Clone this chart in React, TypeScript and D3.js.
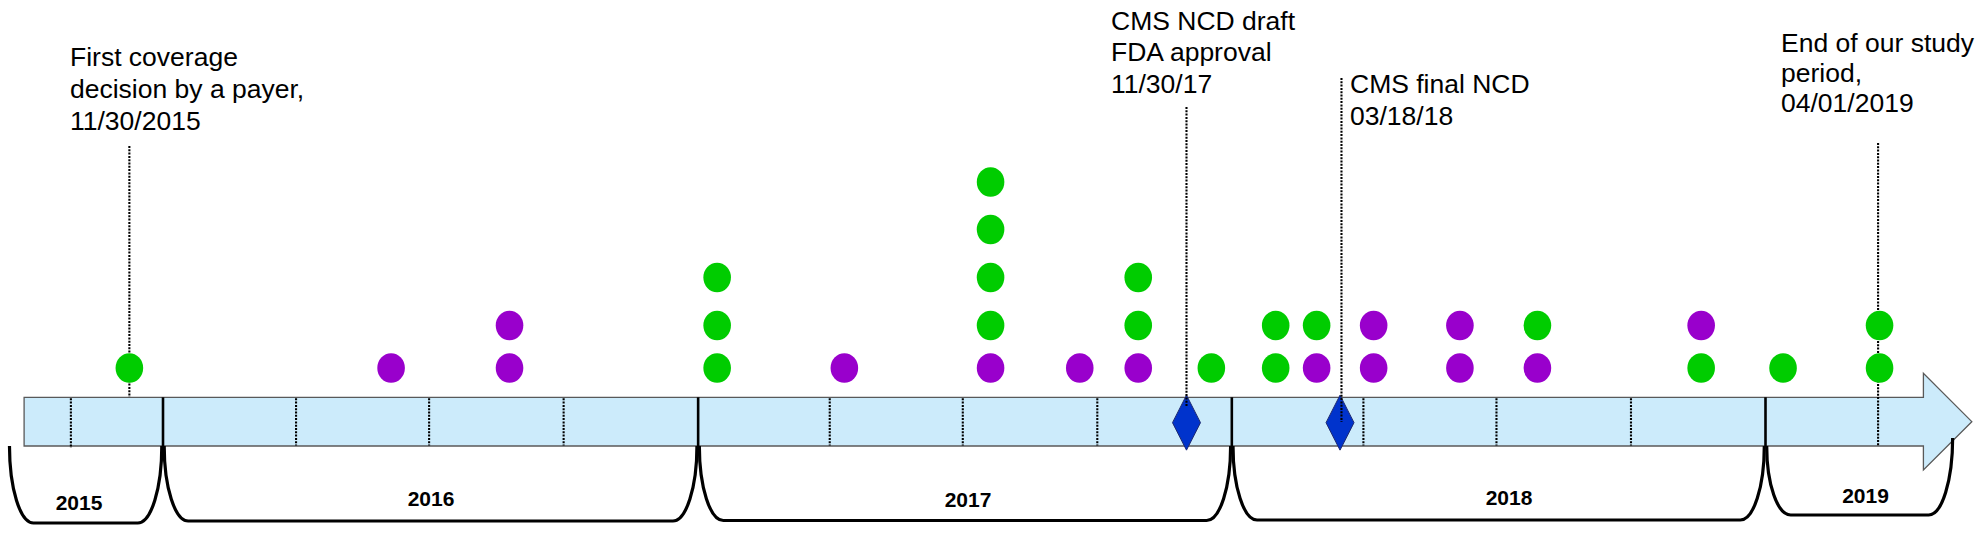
import React from "react";
import * as d3 from "d3";

// ---------------- DATA ----------------
const timelineStart = "2015-09-28";
const timelineEnd = "2019-04-19";
const yearBoundaries = ["2016-01-01", "2017-01-01", "2018-01-01", "2019-01-01"];
const quarterTicks = [
  "2015-10-30",
  "2016-04-01", "2016-07-01", "2016-10-01",
  "2017-04-01", "2017-07-01", "2017-10-01",
  "2018-04-01", "2018-07-01", "2018-10-01",
];
const yearLabels = ["2015", "2016", "2017", "2018", "2019"];
const yearBracketStarts = ["2015-09-18", "2016-01-01", "2017-01-01", "2018-01-01", "2019-01-01"];
const yearBracketEnds = ["2016-01-01", "2017-01-01", "2018-01-01", "2019-01-01", "2019-05-09"];

// coverage decision events: stack of dots, bottom to top (G = green, P = purple)
const eventDates = [
  "2015-12-09", "2016-06-05", "2016-08-25", "2017-01-14", "2017-04-11",
  "2017-07-20", "2017-09-19", "2017-10-29", "2017-12-18", "2018-01-31",
  "2018-02-28", "2018-04-08", "2018-06-06", "2018-07-29", "2018-11-18",
  "2019-01-13", "2019-03-20",
];
const eventStacks = [
  ["G"], ["P"], ["P", "P"], ["G", "G", "G"], ["P"],
  ["P", "G", "G", "G", "G"], ["P"], ["P", "G", "G"], ["G"], ["G", "G"],
  ["P", "G"], ["P", "P"], ["P", "P"], ["P", "G"], ["G", "P"],
  ["G"], ["G", "G"],
];

// milestones shown as diamonds on the timeline
const milestoneDates = ["2017-12-01", "2018-03-16"];

// annotations (dotted leader lines + text)
const annotationDates = ["2015-12-09", "2017-12-01", "2018-03-17", "2019-03-19"];
const annotationTexts = [
  ["First coverage", "decision by a payer,", "11/30/2015"],
  ["CMS NCD draft", "FDA approval", "11/30/17"],
  ["CMS final NCD", "03/18/18"],
  ["End of our study", "period,", "04/01/2019"],
];

// ---------------- LAYOUT / STYLE ----------------
const W = 1984;
const H = 534;
const BAR_TOP = 397.3;
const BAR_BOTTOM = 446;
const HEAD_HALF = 48.3;
const HEAD_LEN = 48.4;
const BRACKET_TOP = 446;
const BRACKET_RX = 24;
const GREEN = "#00CC00";
const PURPLE = "#9900CC";
const FONT = "'Liberation Sans', Arial, Helvetica, sans-serif";
const DOT_DASH = "2 1.3";
const DOT_W = 2.1;

const annotationLayout = [
  { tx: 70, base: 66, gap: 32, lineTop: 146, lineBottom: 397 },
  { tx: 1111, base: 29.5, gap: 31.5, lineTop: 107, lineBottom: 406 },
  { tx: 1350, base: 92.5, gap: 32, lineTop: 78, lineBottom: 422 },
  { tx: 1781, base: 51.7, gap: 30, lineTop: 143, lineBottom: 446 },
];
const bracketLayout = [
  { bottom: 523, rightTop: BRACKET_TOP, labelX: 79, labelY: 510 },
  { bottom: 521, rightTop: BRACKET_TOP, labelX: 431, labelY: 506 },
  { bottom: 520.5, rightTop: BRACKET_TOP, labelX: 968, labelY: 507 },
  { bottom: 520, rightTop: BRACKET_TOP, labelX: 1509, labelY: 505 },
  { bottom: 515, rightTop: 438, labelX: 1865.5, labelY: 503 },
];

const parse = d3.utcParse("%Y-%m-%d");

export default function App() {
  const x = d3
    .scaleUtc()
    .domain([parse("2016-01-01")!, parse("2019-01-01")!])
    .range([163, 1765.5]);
  const levelY = d3.scaleLinear().domain([0, 1, 2, 3, 4]).range([368, 325.5, 277.5, 229.5, 182]);

  const xs = x(parse(timelineStart)!);
  const xe = x(parse(timelineEnd)!);
  const yc = (BAR_TOP + BAR_BOTTOM) / 2;
  const arrowPath = [
    `M${xs},${BAR_TOP}`,
    `L${xe},${BAR_TOP}`,
    `L${xe},${yc - HEAD_HALF}`,
    `L${xe + HEAD_LEN},${yc}`,
    `L${xe},${yc + HEAD_HALF}`,
    `L${xe},${BAR_BOTTOM}`,
    `L${xs},${BAR_BOTTOM}`,
    "Z",
  ].join(" ");

  const bracketPath = (x0: number, x1: number, topL: number, topR: number, bottom: number) => {
    const ryL = bottom - topL;
    const ryR = bottom - topR;
    return [
      `M${x0},${topL}`,
      `A${BRACKET_RX},${ryL} 0 0 0 ${x0 + BRACKET_RX},${bottom}`,
      `L${x1 - BRACKET_RX},${bottom}`,
      `A${BRACKET_RX},${ryR} 0 0 0 ${x1},${topR}`,
    ].join(" ");
  };

  return (
    <svg
      width={W}
      height={H}
      viewBox={`0 0 ${W} ${H}`}
      style={{ position: "absolute", left: 0, top: 0, display: "block", background: "#fff" }}
    >
      <rect x={0} y={0} width={W} height={H} fill="#fff" />

      {/* timeline arrow */}
      <path d={arrowPath} fill="#CCEBFB" stroke="#595959" strokeWidth={1.3} />

      {/* quarter ticks */}
      {quarterTicks.map((d, i) => {
        const xx = x(parse(d)!);
        return (
          <line
            key={"q" + i}
            x1={xx}
            x2={xx}
            y1={BAR_TOP + 1}
            y2={i === 0 ? BAR_BOTTOM + 2 : BAR_BOTTOM - 0.5}
            stroke="#000"
            strokeWidth={DOT_W}
            strokeDasharray={DOT_DASH}
          />
        );
      })}

      {/* year boundaries */}
      {yearBoundaries.map((d, i) => {
        const xx = x(parse(d)!);
        return (
          <line key={"y" + i} x1={xx} x2={xx} y1={BAR_TOP} y2={BAR_BOTTOM} stroke="#000" strokeWidth={2.6} />
        );
      })}

      {/* year brackets */}
      {yearLabels.map((lab, i) => {
        const x0 = x(parse(yearBracketStarts[i])!) + (i === 0 ? 0 : 1.2);
        const x1 = x(parse(yearBracketEnds[i])!) - (i === yearLabels.length - 1 ? 0 : 1.2);
        const L = bracketLayout[i];
        return (
          <g key={"b" + i}>
            <path d={bracketPath(x0, x1, BRACKET_TOP, L.rightTop, L.bottom)} fill="none" stroke="#000" strokeWidth={3.2} />
            <text
              x={L.labelX}
              y={L.labelY}
              textAnchor="middle"
              fontFamily={FONT}
              fontWeight="bold"
              fontSize={21}
              fill="#000"
            >
              {lab}
            </text>
          </g>
        );
      })}

      {/* milestone diamonds */}
      {milestoneDates.map((d, i) => {
        const xx = x(parse(d)!);
        const cy = yc + 1;
        const hw = 14;
        const hh = 27.5;
        return (
          <path
            key={"m" + i}
            d={`M${xx},${cy - hh} L${xx + hw},${cy} L${xx},${cy + hh} L${xx - hw},${cy} Z`}
            fill="#0033CC"
            stroke="#1F2A70"
            strokeWidth={1}
          />
        );
      })}

      {/* annotations */}
      {annotationDates.map((d, i) => {
        const xx = x(parse(d)!);
        const L = annotationLayout[i];
        return (
          <g key={"a" + i}>
            <line
              x1={xx}
              x2={xx}
              y1={L.lineTop}
              y2={L.lineBottom}
              stroke="#000"
              strokeWidth={DOT_W}
              strokeDasharray={DOT_DASH}
            />
            <text fontFamily={FONT} fontSize={26.5} fill="#000">
              {annotationTexts[i].map((t, j) => (
                <tspan key={j} x={L.tx} y={L.base + j * L.gap}>
                  {t}
                </tspan>
              ))}
            </text>
          </g>
        );
      })}

      {/* event dots */}
      {eventDates.map((d, i) => {
        const xx = x(parse(d)!);
        return (
          <g key={"e" + i}>
            {eventStacks[i].map((c, j) => (
              <ellipse
                key={j}
                cx={xx}
                cy={levelY(j)}
                rx={13.8}
                ry={14.8}
                fill={c === "G" ? GREEN : PURPLE}
              />
            ))}
          </g>
        );
      })}
    </svg>
  );
}
